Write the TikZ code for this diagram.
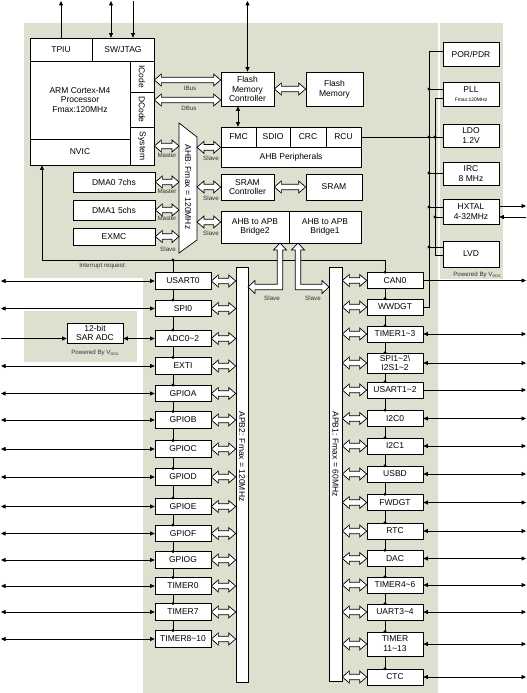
\documentclass[tikz,border=0pt]{standalone}
\usepackage{fontspec}
\setmainfont{Liberation Sans}
\usetikzlibrary{arrows.meta,calc}
\definecolor{bgc}{RGB}{221,224,206}
\definecolor{lab}{RGB}{50,50,50}
\newcommand\hda[3]{\path[hol] let \p1=(#1),\p2=(#2),\p3=(#3) in
 (\x1,\y3) -- (\x1+7pt,\y3+6pt) -- (\x1+7pt,\y3+2.8pt) -- (\x2-7pt,\y3+2.8pt) -- (\x2-7pt,\y3+6pt) -- (\x2,\y3)
 -- (\x2-7pt,\y3-6pt) -- (\x2-7pt,\y3-2.8pt) -- (\x1+7pt,\y3-2.8pt) -- (\x1+7pt,\y3-6pt) -- cycle;}
\newcommand\dda{\textasciitilde}
\begin{document}
\begin{tikzpicture}[x=1pt,y=-1pt,
 box/.style={draw,fill=white,line width=0.7pt,inner sep=0pt,align=center,font=\fontsize{8.5}{9.8}\selectfont},
 pbox/.style={box,minimum width=56,minimum height=16.5},
 sm/.style={font=\fontsize{6.2}{7}\selectfont,inner sep=0pt,text=lab},
 ln/.style={line width=0.7pt},
 arr/.style={ln,-{Triangle[length=4.5pt,width=4pt]}},
 darr/.style={ln,{Triangle[length=4.5pt,width=4pt]}-{Triangle[length=4.5pt,width=4pt]}},
 hol/.style={draw,fill=white,line width=0.7pt,line join=miter}]
\useasboundingbox (0,0) rectangle (527,693);
% backgrounds
\fill[bgc] (24,23) -- (438,23) -- (438,693) -- (143,693) -- (143,278) -- (24,278) -- cycle;
\fill[bgc] (440,23) rectangle (503,279);
\fill[bgc] (24,311) rectangle (137,362);
\coordinate (T) at (0,1);
\coordinate (Lx) at (1,0);
\coordinate (Rx) at (526,0);
\coordinate (ahbL) at (179,0);
\coordinate (ahbR) at (197,0);
\coordinate (ir) at (42,260);
% core
\node[box,minimum width=62,minimum height=23] (TPIU) at (61,49.5) {TPIU};
\node[box,minimum width=62,minimum height=23] (SWJ) at (123,49.5) {SW/JTAG};
\node[box,minimum width=100,minimum height=78] (ARM) at (80,100) {ARM Cortex-M4\\Processor\\Fmax:120MHz};
\node[box,minimum width=100,minimum height=26] (NVIC) at (80,152) {NVIC};
\node[box,minimum width=24,minimum height=31] (ICode) at (142,76.5) {\rotatebox{-90}{ICode}};
\node[box,minimum width=24,minimum height=35] (DCode) at (142,109.5) {\rotatebox{-90}{DCode}};
\node[box,minimum width=24,minimum height=38] (Sys) at (142,146) {\rotatebox{-90}{System}};
\node[box,minimum width=82,minimum height=20] (DMA0) at (114,182) {DMA0 7chs};
\node[box,minimum width=82,minimum height=20] (DMA1) at (114,210) {DMA1 5chs};
\node[box,minimum width=82,minimum height=17] (EXMC) at (114,236.5) {EXMC};
\node[box,minimum width=53,minimum height=34] (FMCtrl) at (247.5,89) {Flash\\Memory\\Controller};
\node[box,minimum width=57,minimum height=34] (FlashM) at (334.5,89) {Flash\\Memory};
\node[box,minimum width=35,minimum height=20] (FMC) at (238.5,137) {FMC};
\node[box,minimum width=34,minimum height=20] (SDIO) at (273,137) {SDIO};
\node[box,minimum width=36,minimum height=20] (CRC) at (308,137) {CRC};
\node[box,minimum width=35,minimum height=20] (RCU) at (343.5,137) {RCU};
\node[box,minimum width=140,minimum height=20] (AHBP) at (291,157) {AHB Peripherals};
\node[box,minimum width=53,minimum height=26] (SRAMC) at (247.5,187) {SRAM\\Controller};
\node[box,minimum width=56,minimum height=26] (SRAM) at (334,187) {SRAM};
\node[box,minimum width=68,minimum height=32] (Br2) at (255,227) {AHB to APB\\Bridge2};
\node[box,minimum width=72,minimum height=32] (Br1) at (325,227) {AHB to APB\\Bridge1};
% power
\node[box,minimum width=56,minimum height=24] (POR) at (471,54) {POR/PDR};
\node[box,minimum width=56,minimum height=24] (PLL) at (471,94) {PLL\\[-1.5pt]{\fontsize{5}{6}\selectfont Fmax:120MHz}};
\node[box,minimum width=56,minimum height=23] (LDO) at (471,135.5) {LDO\\1.2V};
\node[box,minimum width=56,minimum height=23] (IRC) at (471,173.5) {IRC\\8 MHz};
\node[box,minimum width=56,minimum height=25] (HX) at (471,211.5) {HXTAL\\4-32MHz};
\node[box,minimum width=56,minimum height=26] (LVD) at (471,254) {LVD};
\node[sm] (pwr) at (477,275) {Powered By V\raisebox{-0.6pt}{\fontsize{3.8}{4}\selectfont DDA}};
% AHB bus
\draw[hol] (179,123) -- (197,137) -- (197,240) -- (179,253) -- cycle;
\node[rotate=-90,inner sep=0,font=\fontsize{8.5}{9}\selectfont] (ahbt) at (188,187) {AHB: Fmax = 120MHz};
% APB buses
\node[draw,fill=white,line width=0.7pt,inner sep=0,minimum width=12,minimum height=415] (APB2) at (242,474.5) {};
\node[rotate=-90,inner sep=0,font=\fontsize{8.5}{9}\selectfont] (apb2t) at (242,456.5) {APB2: Fmax = 120MHz};
\node[draw,fill=white,line width=0.7pt,inner sep=0,minimum width=13,minimum height=414] (APB1) at (335.5,474) {};
\node[rotate=-90,inner sep=0,font=\fontsize{8.5}{9}\selectfont] (apb1t) at (335.5,454) {APB1: Fmax = 60MHz};
% APB2 peripherals
\node[pbox] (USART0) at (183,281) {USART0};
\node[pbox] (SPI0) at (183,308.5) {SPI0};
\node[pbox] (ADC) at (183,338.5) {ADC0\dda2};
\node[pbox] (EXTI) at (183,366) {EXTI};
\node[pbox] (GA) at (183,393.5) {GPIOA};
\node[pbox] (GB) at (183,420) {GPIOB};
\node[pbox] (GC) at (183,449) {GPIOC};
\node[pbox] (GD) at (183,477) {GPIOD};
\node[pbox] (GE) at (183,506.5) {GPIOE};
\node[pbox] (GF) at (183,533.5) {GPIOF};
\node[pbox] (GG) at (183,560) {GPIOG};
\node[pbox] (TIM0) at (183,586) {TIMER0};
\node[pbox] (TIM7) at (183,612) {TIMER7};
\node[pbox] (TIM8) at (183,639) {TIMER8\dda10};
% ADC
\node[box,minimum width=56,minimum height=20] (SAR) at (95,333) {12-bit\\SAR ADC};
\node[sm] (pwa) at (95,353) {Powered By V\raisebox{-0.6pt}{\fontsize{3.8}{4}\selectfont DDA}};
% APB1 peripherals
\node[pbox,minimum height=16] (CAN0) at (395,280.5) {CAN0};
\node[pbox,minimum height=16] (WWDGT) at (395,307) {WWDGT};
\node[pbox,minimum height=16] (TIM1) at (395,334) {TIMER1\dda3};
\node[pbox,minimum height=20] (SPI1) at (395,363) {SPI1\dda2\textbackslash\\[-1.5pt]I2S1\dda2};
\node[pbox,minimum height=16] (USART1) at (395,390) {USART1\dda2};
\node[pbox,minimum height=16] (I2C0) at (395,418.5) {I2C0};
\node[pbox,minimum height=16] (I2C1) at (395,446) {I2C1};
\node[pbox,minimum height=16] (USBD) at (395,474) {USBD};
\node[pbox,minimum height=16] (FWDGT) at (395,502.5) {FWDGT};
\node[pbox,minimum height=16] (RTC) at (395,531) {RTC};
\node[pbox,minimum height=16] (DAC) at (395,558.5) {DAC};
\node[pbox,minimum height=16] (TIM4) at (395,585) {TIMER4\dda6};
\node[pbox,minimum height=16] (UART3) at (395,612) {UART3\dda4};
\node[pbox,minimum height=24] (TIM11) at (395,644) {TIMER\\11\dda13};
\node[pbox,minimum height=16] (CTC) at (395,677) {CTC};
% top arrows
\draw[arr] (TPIU.north) -- (TPIU.north |- T);
\draw[darr] ([xshift=-12pt]SWJ.north) -- ([xshift=-12pt]SWJ.north |- T);
\draw[arr] ([xshift=10pt]SWJ.north |- T) -- ([xshift=10pt]SWJ.north);
\draw[darr] (FMCtrl.north) -- (FMCtrl.north |- T);
\draw[darr] ([xshift=-9.5pt]FMCtrl.south) -- ([xshift=-9.5pt]FMCtrl.south |- FMC.north);
% interrupt
\draw[arr] ([xshift=-10pt]CAN0.north) |- (ir) -- (ir |- NVIC.south);
\node[sm] (irq) at (102,266) {Interrupt request};
\fill (173,260) circle (1.6);
\fill ([xshift=-10pt]CAN0.north) circle (1.6);
\draw[ln] (173,260) -- ([xshift=-10pt]USART0.north);
\foreach \a/\b in {USART0/SPI0,SPI0/ADC,ADC/EXTI,EXTI/GA,GA/GB,GB/GC,GC/GD,GD/GE,GE/GF,GF/GG,GG/TIM0,TIM0/TIM7,TIM7/TIM8,
  CAN0/WWDGT,WWDGT/TIM1,TIM1/SPI1,SPI1/USART1,USART1/I2C0,I2C0/I2C1,I2C1/USBD,USBD/FWDGT,FWDGT/RTC,RTC/DAC,DAC/TIM4,TIM4/UART3,UART3/TIM11,TIM11/CTC}
  {\draw[ln] ([xshift=-10pt]\a.south) -- ([xshift=-10pt]\b.north);
   \fill ([xshift=-10pt]\b.north) circle (1.6);}
% left external
\foreach \q in {USART0,SPI0,EXTI,GA,GB,GC,GD,GE,GF,GG,TIM0,TIM7,TIM8}
  {\draw[darr] (\q.west) -- (\q.west -| Lx);}
\draw[arr] (ADC.west -| Lx) -- (ADC.west -| SAR.west);
\draw[darr] (ADC.west -| SAR.east) -- (ADC.west);
% right external
\foreach \q in {TIM1,SPI1,I2C0,I2C1,USBD,FWDGT,RTC,DAC,TIM4,UART3,TIM11,CTC}
  {\draw[darr] (\q.east) -- (\q.east -| Rx);}
\draw[arr] (USART1.east) -- (USART1.east -| Rx);
\draw[arr] (CAN0.east) -- (CAN0.east -| Rx);
% power wiring
\draw[ln] (WWDGT.east) -| (429,51) -- ([yshift=3pt]POR.west);
\draw[ln] ([yshift=-4pt]PLL.west) -| (435,255) -- ([yshift=-1pt]LVD.west);
\draw[ln] (429,89) -- ([yshift=5pt]PLL.west);
\draw[ln] (RCU.east) -- (LDO.west |- RCU.east);
\draw[ln] (429,173) -- (IRC.west |- 0,173);
\draw[ln] (429,207) -- ([yshift=4.5pt]HX.west);
\draw[ln] (435,217) -- ([yshift=-5.5pt]HX.west);
\draw[ln] (429,247) -- ([yshift=7pt]LVD.west);
\foreach \c in {(429,89),(429,137),(435,137),(429,173),(429,207),(435,217),(429,247)} {\fill \c circle (1.6);}
\draw[arr] ([yshift=5.5pt]HX.east) -- ([yshift=5.5pt]HX.east -| Rx);
\draw[arr] ([yshift=-5.5pt]HX.east -| Rx) -- ([yshift=-5.5pt]HX.east);
% hollow arrows
\hda{ICode.east}{FMCtrl.west}{[yshift=9pt]FMCtrl.west}
\hda{DCode.east}{FMCtrl.west}{[yshift=-11pt]FMCtrl.west}
\hda{FMCtrl.east}{FlashM.west}{FMCtrl.east}
\hda{SRAMC.east}{SRAM.west}{SRAMC.east}
\hda{Sys.east}{ahbL}{Sys.east}
\hda{DMA0.east}{ahbL}{DMA0.east}
\hda{DMA1.east}{ahbL}{DMA1.east}
\hda{EXMC.east}{ahbL}{EXMC.east}
\hda{ahbR}{AHBP.west}{FMC.south}
\hda{ahbR}{SRAMC.west}{SRAMC.west}
\hda{ahbR}{Br2.west}{[yshift=5pt]Br2.west}
\foreach \q in {USART0,SPI0,ADC,EXTI,GA,GB,GC,GD,GE,GF,GG,TIM0,TIM7,TIM8} {\hda{\q.east}{APB2.west}{\q.east}}
\foreach \q in {CAN0,WWDGT,TIM1,SPI1,USART1,I2C0,I2C1,USBD,FWDGT,RTC,DAC,TIM4,UART3,TIM11,CTC} {\hda{APB1.east}{\q.west}{\q.west}}
% bridge to APB hollow L-arrows
\draw[hol] (280,243) -- (286.5,250) -- (282.8,250) -- (282.8,289.8) -- (255,289.8) -- (255,293.5) -- (248,287)
  -- (255,280.5) -- (255,284.2) -- (277.2,284.2) -- (277.2,250) -- (273.5,250) -- cycle;
\draw[hol] (298,243) -- (291.5,250) -- (295.2,250) -- (295.2,289.8) -- (322,289.8) -- (322,293.5) -- (329,287)
  -- (322,280.5) -- (322,284.2) -- (300.8,284.2) -- (300.8,250) -- (304.5,250) -- cycle;
% small labels
\node[sm] (ib) at (190,88) {IBus};
\node[sm] (db) at (189,108) {DBus};
\node[sm] (m1) at (167,155) {Master};
\node[sm] (m2) at (167,191) {Master};
\node[sm] (m3) at (167,218) {Master};
\node[sm] (s0) at (168,249) {Slave};
\node[sm] (s1) at (211,158) {Slave};
\node[sm] (s2) at (211,198) {Slave};
\node[sm] (s3) at (211,233) {Slave};
\node[sm] (s4) at (272,298) {Slave};
\node[sm] (s5) at (313,298) {Slave};
\end{tikzpicture}
\end{document}
